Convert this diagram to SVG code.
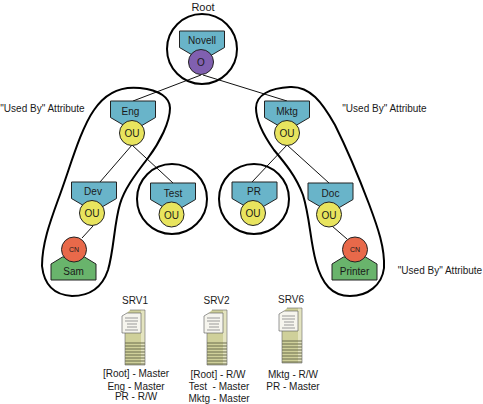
<svg xmlns="http://www.w3.org/2000/svg" width="483" height="404" viewBox="0 0 483 404">
<style>
text{font-family:"Liberation Sans",Arial,sans-serif;font-size:10px;fill:#1a1a1a;text-anchor:middle}
.big{font-size:11px}
.srv{font-size:10px}
.cn{font-size:7px}
.blue{fill:#69b4c9;stroke:#222;stroke-width:1}
.green{fill:#69b46c;stroke:#222;stroke-width:1}
.y{fill:#e8e45e;stroke:#222;stroke-width:1}
.p{fill:#8060b0;stroke:#222;stroke-width:1}
.r{fill:#e8694a;stroke:#222;stroke-width:1}
.ring{fill:none;stroke:#000;stroke-width:2}
.l{stroke:#111;stroke-width:1;fill:none}
</style>
<defs>
<g id="ob"><path class="blue" d="M-22.500 0H22.500V16.500L8 25H-8L-22.500 16.500Z"/></g>
<g id="lf"><path class="green" d="M-22.500 17V1L-11-6H11L22.500 1V17Z"/></g>
<g id="srv">
<path d="M3 5L8 0H23V55H3Z" fill="#cfd09a"/>
<path d="M19 0L23 0V55H19Z" fill="#e4e4c0"/>
<path d="M0 6L5 3H19V23H0Z" fill="#f6f5ee" stroke="#555" stroke-width=".6"/>
<path d="M3 8H16M3 11H16M5 14H15M5 17H15M3 20H16" stroke="#999" stroke-width="1"/>
<path d="M3 33H23M3 36H23M3 39H23M3 42H23M3 45H23M3 48H23M3 51H23M3 54H23" stroke="#6a6c4c" stroke-width="1"/>
<path d="M3 23V55H23V0H8" fill="none" stroke="#666" stroke-width=".6"/>
</g>
</defs>
<g id="connectors">
<path class="l" d="M201 75L133 101"/>
<path class="l" d="M203 75L287 101"/>
<path class="l" d="M132 145L100 182"/>
<path class="l" d="M132 145L173 183"/>
<path class="l" d="M287 145L252 182"/>
<path class="l" d="M287 145L329 183"/>
<path class="l" d="M93 226L82 238"/>
<path class="l" d="M332 226L347 239"/>
</g>
<g id="scopes">
<circle class="ring" cx="202" cy="49" r="35"/>
<circle class="ring" cx="172" cy="199" r="35"/>
<circle class="ring" cx="254" cy="199" r="35"/>
<path class="ring" d="M58 200C70 168 80 130 94 110C106 92 122 86 140 88C160 90 170 98 170 108C170 122 160 142 148 158C134 176 124 190 120 204C114 224 114 250 108 270C102 288 90 296 72 296C54 295 44 284 42 266C42 244 50 222 58 200Z"/>
<path class="ring" d="M256 108C256 95 270 88 290 87C310 86 322 102 335 125C345 145 358 175 369 204C378 228 385 248 384 268C382 285 368 296 350 296C332 296 322 284 316 262C310 240 310 218 303 195C296 176 284 162 274 150C264 136 256 122 256 108Z"/>
</g>
<g id="root-label"><text class="big" x="203" y="11">Root</text></g>
<g id="novell"><use href="#ob" x="202" y="31"/><circle class="p" cx="201" cy="62" r="12.500"/><text x="202" y="44">Novell</text><text x="201" y="66">O</text></g>
<g id="eng"><use href="#ob" x="133" y="101"/><circle class="y" cx="132" cy="133" r="12.500"/><text x="130.500" y="115">Eng</text><text x="132" y="137">OU</text></g>
<g id="mktg"><use href="#ob" x="287" y="101"/><circle class="y" cx="287" cy="133" r="12.500"/><text x="287" y="115">Mktg</text><text x="287" y="137">OU</text></g>
<g id="dev"><use href="#ob" x="94" y="182"/><circle class="y" cx="92" cy="213" r="12.500"/><text x="93" y="195">Dev</text><text x="92" y="217">OU</text></g>
<g id="test"><use href="#ob" x="173" y="183"/><circle class="y" cx="171.500" cy="214.500" r="12.500"/><text x="173" y="196.500">Test</text><text x="171.500" y="218.500">OU</text></g>
<g id="pr"><use href="#ob" x="254.500" y="182"/><circle class="y" cx="253" cy="213" r="12.500"/><text x="254" y="195">PR</text><text x="253" y="217">OU</text></g>
<g id="doc"><use href="#ob" x="330.500" y="183"/><circle class="y" cx="329" cy="214.500" r="12.500"/><text x="330.500" y="196.500">Doc</text><text x="329" y="218.500">OU</text></g>
<g id="sam"><use href="#lf" x="73.500" y="263"/><circle class="r" cx="74" cy="249.500" r="12.500"/><text class="cn" x="74" y="252">CN</text><text x="73.500" y="275">Sam</text></g>
<g id="printer"><use href="#lf" x="354.500" y="263"/><circle class="r" cx="355" cy="249.500" r="12.500"/><text class="cn" x="355" y="252">CN</text><text x="354.500" y="275">Printer</text></g>
<g id="attr-labels">
<text x="42.500" y="112">"Used By" Attribute</text>
<text x="384.500" y="112">"Used By" Attribute</text>
<text x="440" y="274">"Used By" Attribute</text>
</g>
<g id="srv1"><use href="#srv" x="122" y="310"/><text class="srv" x="135" y="304">SRV1</text><text x="136" y="377">[Root] - Master</text><text x="136" y="390">Eng - Master</text><text x="136" y="400">PR - R/W</text></g>
<g id="srv2"><use href="#srv" x="204" y="310"/><text class="srv" x="216.500" y="304">SRV2</text><text x="218" y="378">[Root] - R/W</text><text x="219" y="389.500" xml:space="preserve">Test  - Master</text><text x="219" y="402">Mktg - Master</text></g>
<g id="srv6"><use href="#srv" x="279" y="308"/><text class="srv" x="291" y="303">SRV6</text><text x="293" y="377.500">Mktg - R/W</text><text x="293" y="389.500">PR - Master</text></g>
</svg>
